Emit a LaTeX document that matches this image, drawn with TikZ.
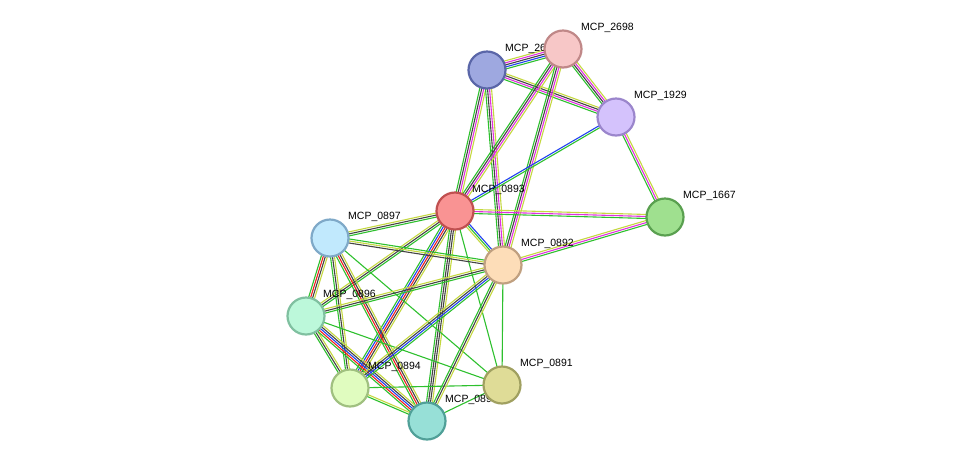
\documentclass[tikz,border=0pt]{standalone}
\usepackage{fontspec}
\setmainfont{Liberation Sans}
\usetikzlibrary{calc}
\definecolor{cg}{HTML}{2EC02E}
\definecolor{ck}{HTML}{444444}
\definecolor{cm}{HTML}{E030E0}
\definecolor{cy}{HTML}{C4D840}
\definecolor{cb}{HTML}{2040F0}
\definecolor{cr}{HTML}{F02020}
\newcommand{\edg}[3]{%
  \def\lst{#3}%
  \foreach \c [count=\i] in \lst {\xdef\nn{\i}}%
  \foreach \c [count=\i] in \lst {%
    \pgfmathsetmacro{\off}{(\i-(\nn+1)/2)*2.0}%
    \draw[line width=1.1pt,draw=c\c] ($(#1)!\off pt!90:(#2)$) -- ($(#2)!\off pt!-90:(#1)$);
  }}
\tikzset{lb/.style={anchor=west,font=\fontsize{10.5}{11}\selectfont,inner sep=0pt}}
\definecolor{fA}{HTML}{9EA8E0}\definecolor{dA}{HTML}{5A66A8}
\definecolor{fB}{HTML}{F7C7C7}\definecolor{dB}{HTML}{C08888}
\definecolor{fC}{HTML}{D4C2FC}\definecolor{dC}{HTML}{9B86CC}
\definecolor{fF}{HTML}{9FE08F}\definecolor{dF}{HTML}{5AA050}
\definecolor{fD}{HTML}{F99393}\definecolor{dD}{HTML}{C05050}
\definecolor{fG}{HTML}{C1E9FD}\definecolor{dG}{HTML}{7FA9C8}
\definecolor{fE}{HTML}{FDDDB8}\definecolor{dE}{HTML}{C0A080}
\definecolor{fH}{HTML}{BCF8DA}\definecolor{dH}{HTML}{80C0A0}
\definecolor{fI}{HTML}{E0FCBF}\definecolor{dI}{HTML}{A0C080}
\definecolor{fK}{HTML}{DFDC97}\definecolor{dK}{HTML}{A0A060}
\definecolor{fJ}{HTML}{97E0D7}\definecolor{dJ}{HTML}{50A098}
\begin{document}
\begin{tikzpicture}[x=1pt,y=-1pt]
\useasboundingbox (0,0) rectangle (975,467);
\coordinate (A) at (487,70);
\coordinate (B) at (563,49);
\coordinate (C) at (616,117);
\coordinate (F) at (665,217);
\coordinate (D) at (455,211);
\coordinate (G) at (330,238);
\coordinate (E) at (503,265);
\coordinate (H) at (306,316);
\coordinate (I) at (350,388);
\coordinate (K) at (502,385);
\coordinate (J) at (427,421);
\edg{A}{B}{g,b,k,m,y}
\edg{A}{C}{g,m,k,y}
\edg{B}{C}{g,k,m,y}
\edg{A}{D}{g,k,m,y}
\edg{A}{E}{g,k,m,y}
\edg{B}{D}{g,k,m,y}
\edg{B}{E}{g,k,m,y}
\edg{C}{D}{b,g}
\edg{C}{F}{g,m,y}
\edg{D}{F}{g,m,y}
\edg{E}{F}{g,m,y}
\edg{D}{E}{y,g,b}
\edg{D}{G}{y,k,g}
\edg{D}{H}{y,k,g}
\edg{D}{I}{g,b,r,k,y}
\edg{D}{J}{g,k,k,y}
\edg{D}{K}{g}
\edg{G}{E}{k,y,g}
\edg{G}{H}{g,r,k,y}
\edg{G}{I}{g,k,y}
\edg{G}{J}{g,r,k,y}
\edg{G}{K}{g}
\edg{H}{E}{g,k,y}
\edg{H}{I}{g,k,y}
\edg{H}{J}{g,r,b,k,y}
\edg{H}{K}{g}
\edg{I}{E}{g,b,k,y}
\edg{I}{J}{g,y}
\edg{I}{K}{g}
\edg{E}{J}{g,k,y}
\edg{E}{K}{g}
\edg{J}{K}{g}
\node[lb] (lA) at (505,49) {MCP\_2699};
\node[lb] (lB) at (581,28) {MCP\_2698};
\node[lb] (lC) at (634,96) {MCP\_1929};
\node[lb] (lF) at (683,196) {MCP\_1667};
\node[lb] (lD) at (472,190) {MCP\_0893};
\node[lb] (lG) at (348,217) {MCP\_0897};
\node[lb] (lE) at (521,244) {MCP\_0892};
\node[lb] (lH) at (323,295) {MCP\_0896};
\node[lb] (lI) at (368,367) {MCP\_0894};
\node[lb] (lK) at (520,364) {MCP\_0891};
\node[lb] (lJ) at (445,400) {MCP\_0895};
\foreach \n in {A,B,C,F,D,G,E,H,I,K,J}
  \node[circle,minimum size=37pt,inner sep=0pt,fill=f\n,draw=d\n,line width=2.2pt] (n\n) at (\n) {};
\end{tikzpicture}
\end{document}
